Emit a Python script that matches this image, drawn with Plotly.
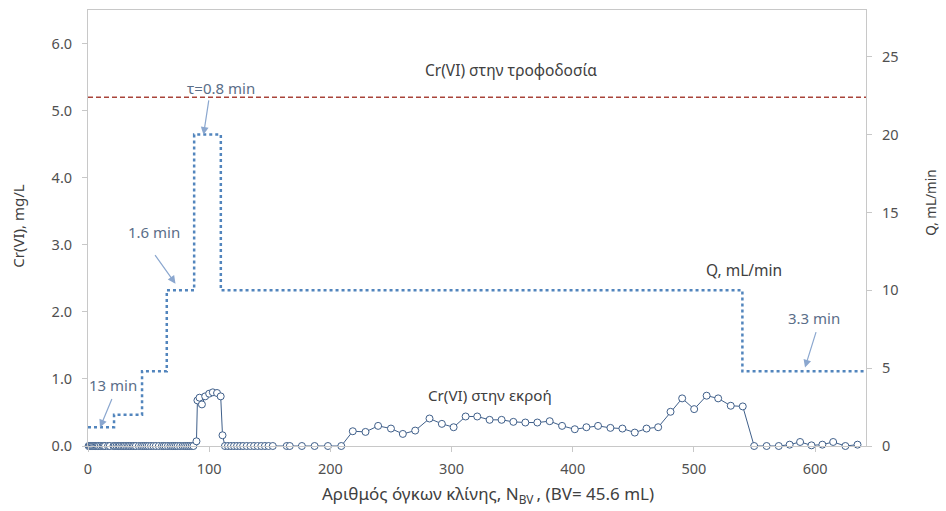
import plotly.graph_objects as go

# ---------------- data ----------------
# Effluent Cr(VI) (mg/L) vs bed volumes
eff_bv = [0.5, 1.3, 2.2, 3.0, 4.0, 5.0, 6.0, 7.0, 8.0, 9.0, 10.5, 12.0, 13.0, 14.0, 16.5, 18.0,
          21.0, 22.0, 23.5, 25.0, 26.0, 27.5, 29.0, 30.0, 31.5, 33.0, 34.0, 35.5, 37.0, 38.0, 39.5,
          42.0, 44.0, 45.5, 47.0, 48.5, 50.0, 52.0, 54.0, 56.0, 58.5, 61.0, 62.5, 64.0, 66.0, 68.0,
          69.5, 71.0, 72.5, 74.0, 76.0, 78.0, 79.5, 81.0, 82.5, 84.0, 85.5, 87.0,
          89.5, 90.3, 92.0, 94.0, 96.7, 100.0, 103.0, 106.5, 109.5, 111.0,
          113.0, 115.5, 118.0, 120.5, 123.0, 125.5, 128.0, 131.0, 134.0, 137.0, 140.0, 143.0, 146.0,
          149.0, 152.5, 164.0, 166.5, 176.5, 187.0, 198.0, 209.0,
          218.5, 229.0, 239.4, 250.0, 259.8, 270.0, 281.8, 292.0, 301.7, 311.6, 321.2, 331.4, 341.3,
          351.0, 360.9, 370.8, 381.0, 391.2, 401.7, 411.3, 420.9, 431.1, 441.0, 451.2, 460.9, 470.5,
          480.7, 490.3, 500.2, 510.5, 520.0, 530.4, 540.3,
          549.7, 560.0, 570.0, 579.0, 587.6, 597.0, 606.0, 614.9, 625.0, 635.0]
eff_cr = [0.0] * 58 + \
         [0.07, 0.68, 0.72, 0.62, 0.74, 0.78, 0.80, 0.79, 0.74, 0.16] + \
         [0.0] * 15 + [0.0] * 6 + \
         [0.22, 0.21, 0.30, 0.26, 0.18, 0.23, 0.41, 0.33, 0.28, 0.44, 0.44, 0.39, 0.39,
          0.36, 0.35, 0.35, 0.37, 0.30, 0.25, 0.28, 0.30, 0.27, 0.26, 0.20, 0.26, 0.28,
          0.51, 0.71, 0.55, 0.75, 0.71, 0.60, 0.59,
          0.0, 0.0, 0.0, 0.02, 0.06, 0.01, 0.02, 0.06, 0.0, 0.02]

# Feed Cr(VI) (mg/L)
feed_bv = [0, 642]
feed_cr = [5.2, 5.2]

# Flow rate Q (mL/min), step changes
q_bv = [0, 21.5, 44.6, 65.0, 87.6, 109.6, 540.0, 642.0]
q_val = [1.2, 2.0, 4.8, 10.0, 20.0, 10.0, 4.8, 4.8]

x_ticks = [0, 100, 200, 300, 400, 500, 600]
y1_ticks = [0, 1, 2, 3, 4, 5, 6]
y1_labels = ["0.0", "1.0", "2.0", "3.0", "4.0", "5.0", "6.0"]
y2_ticks = [0, 5, 10, 15, 20, 25]

# ---------------- layout helpers ----------------
W, H = 946, 511
L, R, T, B = 88, 866, 10, 446.5
FONT = "Noto Sans"
TICK_C = "#505050"
TXT_C = "#404040"
ANN_C = "#5a6e88"
ARR_C = "#8ba7cf"


def px(x):
    return (x - L) / (R - L)


def py(y):
    return (B - y) / (B - T)


fig = go.Figure()

fig.add_trace(go.Scatter(
    x=feed_bv, y=feed_cr, mode="lines",
    line=dict(color="#a9443a", width=1.5, dash="5px,3px"),
    showlegend=False, hoverinfo="skip"))

fig.add_trace(go.Scatter(
    x=q_bv, y=q_val, mode="lines", yaxis="y2",
    line=dict(color="#5285bd", width=2.5, dash="dot", shape="hv"),
    showlegend=False))

fig.add_trace(go.Scatter(
    x=eff_bv, y=eff_cr, mode="lines+markers",
    line=dict(color="#3f5f8a", width=1),
    marker=dict(size=7, color="white", line=dict(color="#3f5f8a", width=1)),
    showlegend=False, cliponaxis=False))

ann = []


def text(x, y, s, color=ANN_C, size=15, angle=0):
    ann.append(dict(x=px(x), y=py(y), xref="paper", yref="paper", text=s,
                    showarrow=False, textangle=angle,
                    font=dict(family=FONT, size=size, color=color),
                    xanchor="center", yanchor="middle"))


def arrow(x0, y0, x1, y1):
    ann.append(dict(x=px(x1), y=py(y1), xref="paper", yref="paper",
                    ax=x0 - x1, ay=y0 - y1, axref="pixel", ayref="pixel",
                    text="", showarrow=True, arrowhead=2, arrowsize=1.3,
                    arrowwidth=1.2, arrowcolor=ARR_C))


text(221, 88, "τ=0.8 min")
arrow(209, 99, 203.5, 135)
text(153.5, 232, "1.6 min")
arrow(154, 254, 175.5, 284)
text(113, 385, "13 min")
arrow(112.5, 398, 100, 428)
text(814, 318, "3.3 min")
arrow(816.5, 331, 805, 368)
text(511, 70, "Cr(VI) στην τροφοδοσία", color=TXT_C, size=15.5)
text(744, 270, "Q, mL/min", color=TXT_C, size=15.5)
text(490, 395, "Cr(VI) στην εκροή", color=TXT_C, size=15.2)
text(488.5, 495, "Αριθμός όγκων κλίνης, N<sub>BV </sub>, (BV= 45.6 mL)", color=TXT_C, size=17)
text(18, 226, "Cr(VI), mg/L", color=TXT_C, size=15, angle=-90)
text(931, 203, "Q, mL/min", color=TXT_C, size=13.5, angle=-90)

axis_common = dict(showgrid=False, zeroline=False, showline=True, linecolor="#c8c8c8",
                   linewidth=1, ticks="outside", ticklen=5, tickcolor="#c8c8c8",
                   tickfont=dict(family=FONT, size=14.5, color=TICK_C))

fig.update_layout(
    width=W, height=H,
    margin=dict(l=L, r=W - R, t=T, b=H - B),
    paper_bgcolor="white", plot_bgcolor="white",
    xaxis=dict(range=[0, 642], tickvals=x_ticks, mirror=True, ticklabelstandoff=5,
               **axis_common),
    yaxis=dict(range=[0, 6.5], tickvals=y1_ticks, ticktext=y1_labels, ticklabelstandoff=7,
               **axis_common),
    yaxis2=dict(range=[0, 28], tickvals=y2_ticks, overlaying="y", side="right",
                ticklabelstandoff=7, **axis_common),
    annotations=ann,
)

fig.write_html("out.html", config={"displayModeBar": False},
               post_script="document.body.style.margin='0px';")
